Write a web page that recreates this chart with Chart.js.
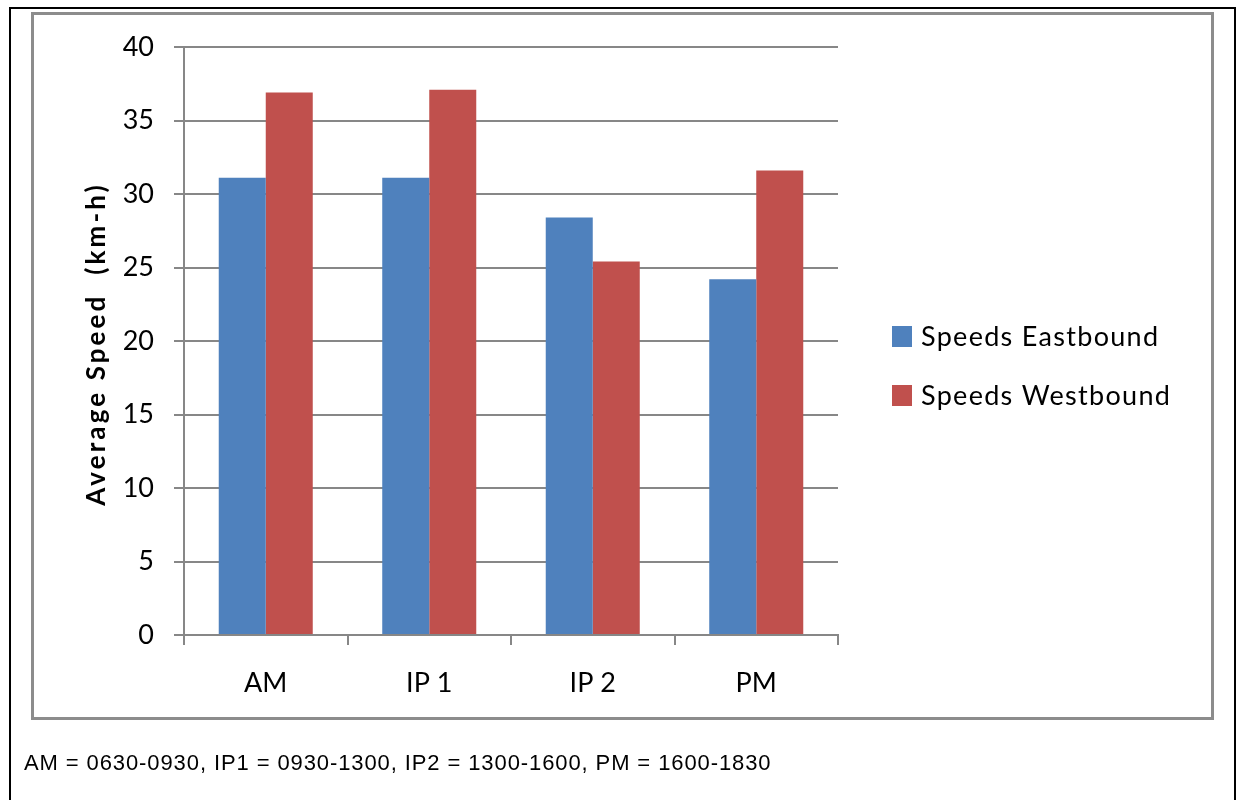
<!DOCTYPE html>
<html>
<head>
<meta charset="utf-8">
<script src="https://cdn.jsdelivr.net/npm/chart.js@4.4.1/dist/chart.umd.min.js"></script>
<style>
  html, body { margin: 0; padding: 0; background: #ffffff; }
  body { width: 1241px; height: 800px; position: relative; overflow: hidden; }
  #frame {
    position: absolute; left: 9px; top: 7px; width: 1227px; height: 800px;
    border: 2px solid #000; border-bottom: none; box-sizing: border-box;
  }
  #panel {
    position: absolute; left: 31px; top: 12px; width: 1183px; height: 708px;
    border: 3px solid #8c8c8c; box-sizing: border-box;
  }
  #note {
    position: absolute; left: 24px; top: 750px;
    font-family: "Liberation Sans", Arial, sans-serif; font-size: 22px;
    letter-spacing: 0.9px; color: #000; white-space: nowrap;
  }
  #chart { position: absolute; left: 0; top: 0; }
</style>
</head>
<body>
<div id="frame"></div>
<div id="panel"></div>
<canvas id="chart" width="1241" height="800"></canvas>
<div id="note">AM = 0630-0930, IP1 = 0930-1300, IP2 = 1300-1600, PM = 1600-1830</div>
<script>
// Time periods and average speeds (km/h) by direction
const periods = ['AM', 'IP 1', 'IP 2', 'PM'];
const eastbound = [31.1, 31.1, 28.4, 24.2];
const westbound = [36.9, 37.1, 25.4, 31.6];
const seriesNames = ['Speeds Eastbound', 'Speeds Westbound'];
const yTicks = [0, 5, 10, 15, 20, 25, 30, 35, 40];
const yTitle = 'Average Speed  (km-h)';

const GRID = '#878787';
const FONT = 'Lato, "Open Sans", sans-serif';

// Legend to the right of the plot (one row per series) and the spaced-out y-axis title
const sideDecor = {
  id: 'sideDecor',
  afterDraw(chart) {
    const ctx = chart.ctx;
    const area = chart.chartArea;
    ctx.save();
    ctx.font = '27px ' + FONT;
    ctx.letterSpacing = '1.3px';
    ctx.textBaseline = 'middle';
    ctx.textAlign = 'left';
    const rows = [337, 396];
    chart.data.datasets.forEach((ds, i) => {
      const y = rows[i];
      ctx.fillStyle = ds.backgroundColor;
      ctx.fillRect(892, y - 11, 20, 21);
      ctx.fillStyle = '#000';
      ctx.fillText(ds.label, 921, y);
    });
    ctx.restore();

    ctx.save();
    ctx.translate(97, (area.top + area.bottom) / 2 + 3);
    ctx.rotate(-Math.PI / 2);
    ctx.font = 'bold 26px ' + FONT;
    ctx.letterSpacing = '3.1px';
    ctx.textAlign = 'center';
    ctx.textBaseline = 'middle';
    ctx.fillStyle = '#000';
    ctx.fillText(yTitle, 0, 0);
    ctx.restore();
  }
};

new Chart(document.getElementById('chart'), {
  type: 'bar',
  data: {
    labels: periods,
    datasets: [
      { label: seriesNames[0], data: eastbound, backgroundColor: '#4F81BD',
        categoryPercentage: 0.575, barPercentage: 1.0 },
      { label: seriesNames[1], data: westbound, backgroundColor: '#C0504D',
        categoryPercentage: 0.575, barPercentage: 1.0 }
    ]
  },
  options: {
    responsive: false,
    devicePixelRatio: 1,
    animation: false,
    layout: { padding: { left: 40, right: 403, top: 47, bottom: 105 } },
    plugins: { legend: { display: false }, tooltip: { enabled: false } },
    scales: {
      x: {
        offset: true,
        grid: { display: true, drawOnChartArea: false, drawTicks: true,
                tickLength: 10, offset: true, color: GRID, lineWidth: 2 },
        border: { display: true, color: GRID, width: 2 },
        ticks: { color: '#000', font: { family: FONT, size: 27 }, padding: 22 },
        afterFit(scale) { scale.height = 60; }
      },
      y: {
        min: 0, max: 40,
        afterBuildTicks(scale) { scale.ticks = yTicks.map(v => ({ value: v })); },
        grid: { color: GRID, lineWidth: 2, tickLength: 10, drawTicks: true },
        border: { display: true, color: GRID, width: 2 },
        ticks: { color: '#000', font: { family: FONT, size: 27 }, padding: 20 },
        afterFit(scale) { scale.width = 144; }
      }
    }
  },
  plugins: [sideDecor]
});
</script>
</body>
</html>
